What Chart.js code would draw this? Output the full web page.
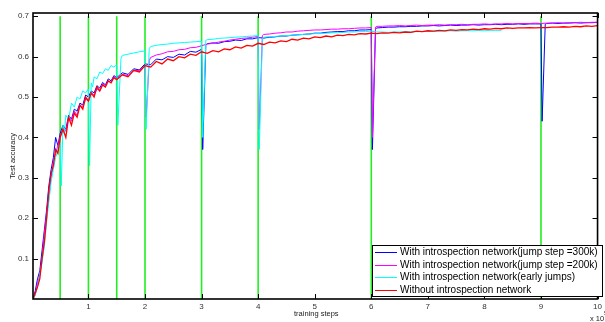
<!DOCTYPE html>
<html>
<head>
<meta charset="utf-8">
<script src="https://cdn.jsdelivr.net/npm/chart.js@4.4.1/dist/chart.umd.min.js"></script>
<style>
  html, body { margin: 0; padding: 0; background: #ffffff; }
  canvas { display: block; }
</style>
</head>
<body>
<canvas id="accuracyChart" width="605" height="322"></canvas>
<script>
// training steps (x 10^5)
const steps = [
  0.02, 0.06, 0.1, 0.14, 0.18, 0.22, 0.26, 0.3, 0.34, 0.38, 0.42, 0.46,
  0.5, 0.55, 0.6, 0.65, 0.7, 0.75, 0.8, 0.85, 0.9, 0.95,
  1.0, 1.05, 1.1, 1.15, 1.2, 1.25, 1.3, 1.35, 1.4, 1.45,
  1.5, 1.6, 1.7, 1.8, 1.9, 2.0, 2.1, 2.2, 2.3, 2.4,
  2.5, 2.6, 2.7, 2.8, 2.9, 3.0, 3.1, 3.2, 3.3, 3.4,
  3.5, 3.6, 3.7, 3.8, 3.9, 4.0, 4.1, 4.2, 4.3, 4.4,
  4.5, 4.6, 4.7, 4.8, 4.9, 5.0, 5.1, 5.2, 5.3, 5.4,
  5.5, 5.6, 5.7, 5.8, 5.9, 6.0, 6.1, 6.2, 6.3, 6.4,
  6.5, 6.6, 6.7, 6.8, 6.9, 7.0, 7.1, 7.2, 7.3, 7.4,
  7.5, 7.6, 7.7, 7.8, 7.9, 8.0, 8.1, 8.2, 8.3, 8.4,
  8.5, 8.6, 8.7, 8.8, 8.9, 9.0, 9.1, 9.2, 9.3, 9.4,
  9.5, 9.6, 9.7, 9.8, 9.9, 10.0
];

// With introspection network (jump step = 300k)
const blueAcc = [
  0.0, 0.02, 0.05, 0.07, 0.12, 0.17, 0.22, 0.28, 0.32, 0.35, 0.40, 0.38,
  0.41, 0.43, 0.42, 0.455, 0.445, 0.47, 0.465, 0.485, 0.48, 0.505,
  0.50, 0.515, 0.51, 0.528, 0.522, 0.536, 0.53, 0.545, 0.54, 0.553,
  0.548, 0.56, 0.556, 0.57, 0.567, 0.582, 0.58, 0.594, 0.592, 0.6,
  0.598, 0.606, 0.604, 0.613, 0.611, 0.618, 0.632, 0.634, 0.633, 0.637,
  0.638, 0.641, 0.64, 0.644, 0.644, 0.647, 0.646, 0.648, 0.649, 0.651,
  0.651, 0.653, 0.654, 0.655, 0.656, 0.658, 0.658, 0.66, 0.661, 0.662,
  0.662, 0.664, 0.664, 0.666, 0.666, 0.667, 0.671, 0.672, 0.673, 0.673,
  0.674, 0.674, 0.675, 0.675, 0.676, 0.676, 0.677, 0.676, 0.677, 0.678,
  0.677, 0.678, 0.678, 0.679, 0.678, 0.679, 0.679, 0.68, 0.679, 0.68,
  0.68, 0.681, 0.68, 0.681, 0.681, 0.681, 0.682, 0.683, 0.682, 0.683,
  0.683, 0.684, 0.683, 0.684, 0.684, 0.685
];

// With introspection network (jump step = 200k)
const magentaAcc = [
  0.0, 0.01, 0.04, 0.06, 0.10, 0.16, 0.21, 0.25, 0.30, 0.34, 0.36, 0.38,
  0.40, 0.425, 0.415, 0.45, 0.44, 0.465, 0.455, 0.48, 0.475, 0.495,
  0.49, 0.51, 0.505, 0.52, 0.515, 0.532, 0.528, 0.54, 0.536, 0.55,
  0.545, 0.556, 0.553, 0.565, 0.566, 0.576, 0.598, 0.604, 0.607, 0.612,
  0.613, 0.617, 0.618, 0.622, 0.623, 0.627, 0.631, 0.633, 0.636, 0.638,
  0.641, 0.643, 0.645, 0.646, 0.648, 0.65, 0.655, 0.656, 0.658, 0.659,
  0.661, 0.661, 0.663, 0.664, 0.665, 0.666, 0.666, 0.667, 0.668, 0.668,
  0.669, 0.669, 0.67, 0.671, 0.671, 0.672, 0.675, 0.675, 0.676, 0.676,
  0.677, 0.676, 0.677, 0.678, 0.677, 0.678, 0.678, 0.679, 0.678, 0.679,
  0.679, 0.68, 0.679, 0.68, 0.68, 0.681, 0.68, 0.681, 0.681, 0.682,
  0.681, 0.682, 0.682, 0.682, 0.683, 0.682, 0.683, 0.683, 0.684, 0.683,
  0.684, 0.684, 0.685, 0.684, 0.685, 0.685
];

// With introspection network (early jumps), stops near 8.3
const cyanAcc = [
  0.0, 0.01, 0.03, 0.06, 0.09, 0.13, 0.19, 0.24, 0.29, 0.32, 0.35, 0.37,
  0.385, 0.43, 0.455, 0.445, 0.485, 0.475, 0.50, 0.495, 0.515, 0.51,
  0.52, 0.535, 0.55, 0.545, 0.562, 0.558, 0.57, 0.566, 0.578, 0.574,
  0.58, 0.603, 0.606, 0.609, 0.612, 0.614, 0.625, 0.628, 0.63, 0.631,
  0.633, 0.634, 0.635, 0.636, 0.637, 0.638, 0.642, 0.643, 0.645, 0.646,
  0.647, 0.648, 0.649, 0.65, 0.651, 0.652, 0.648, 0.649, 0.65, 0.651,
  0.652, 0.653, 0.654, 0.655, 0.656, 0.657, 0.657, 0.658, 0.659, 0.659,
  0.66, 0.661, 0.661, 0.662, 0.662, 0.663, 0.661, 0.661, 0.66, 0.661,
  0.661, 0.662, 0.661, 0.662, 0.662, 0.663, 0.662, 0.663, 0.663, 0.664,
  0.663, 0.664, 0.664, 0.664, 0.665, 0.664, 0.665, 0.665, 0.665, null,
  null, null, null, null, null, null, null, null, null, null,
  null, null, null, null, null, null
];

// Without introspection network
const redAcc = [
  0.0, 0.015, 0.03, 0.05, 0.10, 0.14, 0.20, 0.27, 0.31, 0.33, 0.37, 0.36,
  0.40, 0.42, 0.40, 0.45, 0.43, 0.46, 0.45, 0.48, 0.47, 0.50,
  0.49, 0.51, 0.50, 0.525, 0.515, 0.53, 0.525, 0.54, 0.535, 0.548,
  0.543, 0.555, 0.55, 0.566, 0.562, 0.578, 0.574, 0.588, 0.582, 0.594,
  0.59, 0.6, 0.597, 0.606, 0.603, 0.612, 0.608, 0.615, 0.612, 0.619,
  0.617, 0.624, 0.621, 0.628, 0.626, 0.633, 0.63, 0.636, 0.634, 0.639,
  0.637, 0.643, 0.641, 0.646, 0.644, 0.649, 0.647, 0.651, 0.649, 0.653,
  0.652, 0.655, 0.654, 0.657, 0.656, 0.658, 0.657, 0.659, 0.658, 0.66,
  0.659, 0.661, 0.66, 0.663, 0.662, 0.664, 0.663, 0.665, 0.664, 0.666,
  0.665, 0.667, 0.666, 0.668, 0.667, 0.669, 0.668, 0.67, 0.669, 0.671,
  0.67, 0.671, 0.671, 0.672, 0.671, 0.672, 0.672, 0.673, 0.673, 0.674,
  0.673, 0.675, 0.674, 0.676, 0.675, 0.677
];

// each jump: [step, lowest accuracy, accuracy once recovered]
const blueDips = [[3, 0.37, 0.628], [6, 0.37, 0.669], [9, 0.44, 0.680]];
const magentaDips = [[2, 0.45, 0.590], [4, 0.42, 0.652], [6, 0.40, 0.673]];
const cyanDips = [
  [0.5, 0.28, 0.41], [1, 0.33, 0.525], [1.5, 0.43, 0.595],
  [2, 0.42, 0.62], [3, 0.40, 0.64], [4, 0.37, 0.646]
];

// green markers at the jump steps
const jumpSteps = [0.5, 1, 1.5, 2, 3, 4, 6, 9];
const jumpTop = 0.7;

const xTicks = [1, 2, 3, 4, 5, 6, 7, 8, 9, 10];
const yTicks = [0.1, 0.2, 0.3, 0.4, 0.5, 0.6, 0.7];

const FONT = "'Liberation Sans', Arial, Helvetica, sans-serif";

function buildPoints(values, dips) {
  const pts = [];
  steps.forEach((x, i) => {
    if (values[i] !== null) pts.push({ x: x, y: values[i] });
  });
  dips.forEach(([x, low, back]) => {
    pts.push({ x: x + 0.02, y: low }, { x: x + 0.075, y: back });
  });
  return pts.sort((a, b) => a.x - b.x);
}

function buildJumpLines() {
  const pts = [];
  jumpSteps.forEach((x) => {
    pts.push({ x: x, y: 0 }, { x: x, y: jumpTop }, { x: x, y: null });
  });
  return pts;
}

/**
 * Matlab style box, inward ticks, axis texts and legend inside the plot
 */
const matlabFrame = {
  id: "matlabFrame",
  afterDraw(chart) {
    const { ctx, chartArea: a, scales } = chart;
    ctx.save();

    // inward ticks on all four sides
    ctx.strokeStyle = "#000";
    ctx.lineWidth = 1;
    ctx.beginPath();
    xTicks.forEach((v) => {
      const px = Math.round(scales.x.getPixelForValue(v)) + 0.5;
      ctx.moveTo(px, a.bottom);
      ctx.lineTo(px, a.bottom - 5);
      ctx.moveTo(px, a.top);
      ctx.lineTo(px, a.top + 5);
    });
    yTicks.forEach((v) => {
      const py = Math.round(scales.y.getPixelForValue(v)) + 0.5;
      ctx.moveTo(a.left, py);
      ctx.lineTo(a.left + 5, py);
      ctx.moveTo(a.right, py);
      ctx.lineTo(a.right - 5, py);
    });
    ctx.stroke();

    // box
    ctx.lineWidth = 1.6;
    ctx.strokeRect(a.left, a.top, a.right - a.left, a.bottom - a.top);

    // axis titles
    ctx.fillStyle = "#222";
    ctx.font = "7.5px " + FONT;
    ctx.textAlign = "center";
    ctx.textBaseline = "middle";
    ctx.fillText("training steps", (a.left + a.right) / 2 + 1, 314);
    ctx.save();
    ctx.translate(13, (a.top + a.bottom) / 2);
    ctx.rotate(-Math.PI / 2);
    ctx.fillText("Test accuracy", 0, 0);
    ctx.restore();

    // exponent of the x axis
    ctx.textAlign = "left";
    ctx.fillText("x 10", 590, 319);
    ctx.font = "6px " + FONT;
    ctx.fillText("5", 604, 313);

    // legend
    const box = { left: 372, top: 245, right: 602, bottom: 296 };
    ctx.fillStyle = "#fff";
    ctx.fillRect(box.left, box.top, box.right - box.left, box.bottom - box.top);
    ctx.strokeStyle = "#000";
    ctx.lineWidth = 1;
    ctx.strokeRect(box.left + 0.5, box.top + 0.5, box.right - box.left, box.bottom - box.top);
    ctx.font = "10px " + FONT;
    ctx.textBaseline = "middle";
    const entries = chart.data.datasets.filter((d) => d.label);
    entries.sort((p, q) => p.legendRank - q.legendRank);
    entries.forEach((d, i) => {
      const y = Math.round(box.top + 7 + i * 12.5) + 0.5;
      ctx.strokeStyle = d.borderColor;
      ctx.lineWidth = 1;
      ctx.beginPath();
      ctx.moveTo(375, y);
      ctx.lineTo(397, y);
      ctx.stroke();
      ctx.fillStyle = "#000";
      ctx.fillText(d.label, 400, y);
    });

    ctx.restore();
  },
};

const lineStyle = {
  fill: false,
  pointRadius: 0,
  tension: 0,
  spanGaps: false,
};

new Chart(document.getElementById("accuracyChart"), {
  type: "line",
  data: {
    datasets: [
      {
        ...lineStyle,
        label: "",
        data: buildJumpLines(),
        borderColor: "#22ee22",
        borderWidth: 1.6,
        order: 10,
      },
      {
        ...lineStyle,
        label: "Without introspection network",
        data: buildPoints(redAcc, []),
        borderColor: "#ff0000",
        borderWidth: 1.3,
        order: 1,
        legendRank: 4,
      },
      {
        ...lineStyle,
        label: "With introspection network(early jumps)",
        data: buildPoints(cyanAcc, cyanDips),
        borderColor: "#00ffff",
        borderWidth: 1,
        order: 2,
        legendRank: 3,
      },
      {
        ...lineStyle,
        label: "With introspection network(jump step =200k)",
        data: buildPoints(magentaAcc, magentaDips),
        borderColor: "#ff00ff",
        borderWidth: 1,
        order: 3,
        legendRank: 2,
      },
      {
        ...lineStyle,
        label: "With introspection network(jump step =300k)",
        data: buildPoints(blueAcc, blueDips),
        borderColor: "#0000ff",
        borderWidth: 1,
        order: 4,
        legendRank: 1,
      },
    ],
  },
  options: {
    responsive: false,
    animation: false,
    devicePixelRatio: 1,
    layout: {
      autoPadding: false,
      padding: { top: 13, right: 2, left: 0, bottom: 0 },
    },
    plugins: {
      legend: { display: false },
      tooltip: { enabled: false },
    },
    scales: {
      x: {
        type: "linear",
        min: 0.02,
        max: 10,
        grid: { display: false, drawTicks: false },
        border: { display: false },
        afterFit: (scale) => { scale.height = 23; },
        afterBuildTicks: (scale) => { scale.ticks = xTicks.map((v) => ({ value: v })); },
        ticks: {
          autoSkip: false,
          maxRotation: 0,
          padding: 3,
          color: "#333",
          font: { family: FONT, size: 8 },
          callback: (v) => String(v),
        },
      },
      y: {
        type: "linear",
        min: 0,
        max: 0.708,
        grid: { display: false, drawTicks: false },
        border: { display: false },
        afterFit: (scale) => { scale.width = 33; },
        afterBuildTicks: (scale) => { scale.ticks = yTicks.map((v) => ({ value: v })); },
        ticks: {
          autoSkip: false,
          padding: 4,
          color: "#333",
          font: { family: FONT, size: 8 },
          callback: (v) => v.toFixed(1),
        },
      },
    },
  },
  plugins: [matlabFrame],
});
</script>
</body>
</html>
